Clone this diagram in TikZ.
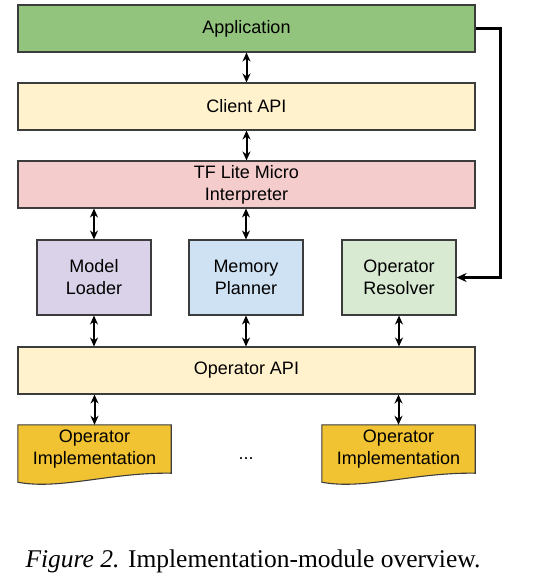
\documentclass[tikz,border=0pt]{standalone}
\usepackage{fontspec}
\setmainfont{Liberation Serif}
\newfontfamily\diagfont{Liberation Sans}
\usetikzlibrary{calc,arrows.meta,backgrounds}
\definecolor{appgreen}{HTML}{93C47D}
\definecolor{apiyellow}{HTML}{FFF2CC}
\definecolor{interpred}{HTML}{F4CCCC}
\definecolor{loaderpurple}{HTML}{D9D2E9}
\definecolor{plannerblue}{HTML}{CFE2F3}
\definecolor{resolvergreen}{HTML}{D9EAD3}
\definecolor{implgold}{HTML}{F1C232}
\definecolor{edgegray}{HTML}{3C3C3C}
\tikzset{
  layer/.style={draw=edgegray,line width=1.1pt,minimum width=457pt,minimum height=47pt,inner sep=0pt,align=center},
  module/.style={layer,minimum width=114pt,minimum height=75pt},
  implbox/.style={minimum width=153pt,minimum height=48pt,inner sep=0pt,align=center},
  implshape/.style={draw=edgegray,line width=1.1pt,fill=implgold},
  biarrow/.style={line width=2pt,{Stealth[length=9pt,width=8pt]}-{Stealth[length=9pt,width=8pt]}},
}
\begin{document}
\begin{tikzpicture}[x=1pt,y=-1pt,font=\diagfont\fontsize{18}{22}\selectfont]
  \useasboundingbox (0,0) rectangle (538,583);
  %LAYERS
  \node[layer,fill=appgreen] (app) at (246.5,28.5) {Application};
  \node[layer,fill=apiyellow] (client) at (246.5,106.5) {Client API};
  \node[layer,fill=interpred] (interp) at (246.5,184.5) {TF Lite Micro\\Interpreter};
  \node[module,fill=loaderpurple] (loader) at (94,277.5) {Model\\Loader};
  \node[module,fill=plannerblue] (planner) at (246,277.5) {Memory\\Planner};
  \node[module,fill=resolvergreen] (resolver) at (399,277.5) {Operator\\Resolver};
  \node[layer,fill=apiyellow] (opapi) at (246.5,370.5) {Operator API};
  %IMPLEMENTATIONS
  \node[implbox] (impl1) at (94.5,449) {Operator\\Implementation};
  \node[implbox] (impl2) at (398.5,449) {Operator\\Implementation};
  \node (dots) at (246,459) {...};
  \begin{scope}[on background layer]
    \foreach \i in {impl1,impl2}
      \draw[implshape] (\i.north west) -- (\i.north east) -- (\i.south east)
        .. controls ($(\i.south east)+(-61,-1)$) and ($(\i.south west)+(42,17)$) .. ($(\i.south west)+(0,9)$) -- cycle;
  \end{scope}
  %ARROWS
  \draw[biarrow] (app.south) -- (client.north);
  \draw[biarrow] (client.south) -- (interp.north);
  \draw[biarrow] (interp.south -| loader.north) -- (loader.north);
  \draw[biarrow] (interp.south -| planner.north) -- (planner.north);
  \foreach \m in {loader,planner,resolver}
    \draw[biarrow] (\m.south) -- (opapi.north -| \m.south);
  \draw[biarrow] (opapi.south -| impl1.north) -- (impl1.north);
  \draw[biarrow] (opapi.south -| impl2.north) -- (impl2.north);
  \draw[line width=2.2pt,-{Stealth[length=10pt,width=9pt]}] (app.east) -- ++(25,0) |- (resolver.east);
  %CAPTION
  \node[font=\rmfamily\fontsize{25.5}{30}\selectfont] (caption) at (253,561) {\textit{Figure 2.} Implementation-module overview.};
\end{tikzpicture}
\end{document}
